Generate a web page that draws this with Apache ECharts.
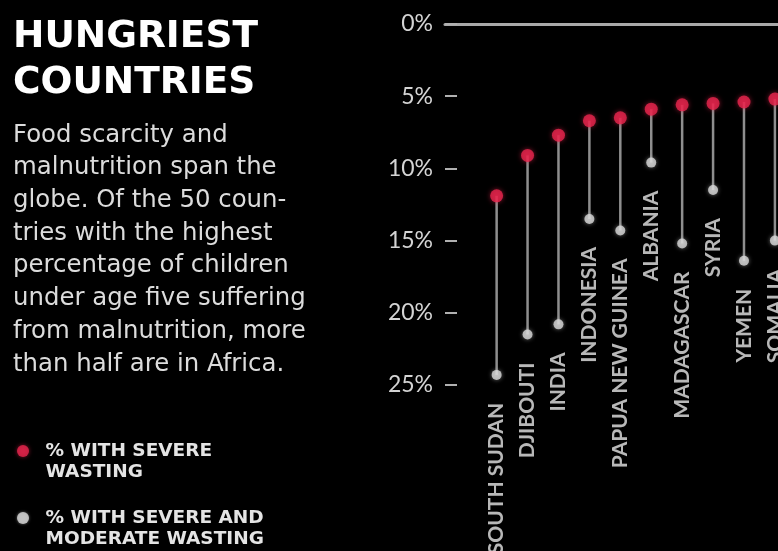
<!DOCTYPE html>
<html>
<head>
<meta charset="utf-8">
<script src="https://cdn.jsdelivr.net/npm/echarts@6/dist/echarts.min.js"></script>
<style>html,body{margin:0;padding:0;background:#000;}#c{width:778px;height:551px;}</style>
</head>
<body>
<div id="c"></div>
<script>
const countries = ['SOUTH SUDAN','DJIBOUTI','INDIA','INDONESIA','PAPUA NEW GUINEA','ALBANIA','MADAGASCAR','SYRIA','YEMEN','SOMALIA'];
const severeWasting = [11.9, 9.1, 7.7, 6.7, 6.5, 5.9, 5.6, 5.5, 5.4, 5.2];
const severeModerateWasting = [24.3, 21.5, 20.8, 13.5, 14.3, 9.6, 15.2, 11.5, 16.4, 15.0];
const yTicks = [0, 5, 10, 15, 20, 25];
const titleText = 'HUNGRIEST\nCOUNTRIES';
const bodyLines = ['Food scarcity and','malnutrition span the','globe. Of the 50 coun-','tries with the highest','percentage of children','under age five suffering','from malnutrition, more','than half are in Africa.'];
const legendNames = ['% WITH SEVERE WASTING', '% WITH SEVERE AND MODERATE WASTING'];
const legendLines = {'% WITH SEVERE WASTING': ['% WITH SEVERE', 'WASTING'], '% WITH SEVERE AND MODERATE WASTING': ['% WITH SEVERE AND', 'MODERATE WASTING']};

const RED = '#e8254d';
const WHITE = '#dadada';

const legendStyle = {
  orient: 'vertical', left: 17, padding: 0,
  icon: 'circle', itemWidth: 35, itemHeight: 12,
  formatter: n => ['', ...legendLines[n]].join('\n'),
  textStyle: { color: '#e4e4e4', fontFamily: 'DejaVu Sans', fontWeight: 'bold', fontSize: 18.5, lineHeight: 21.5 }
};

const chart = echarts.init(document.getElementById('c'));
const stemData = countries.map((c, i) => [i, severeWasting[i], severeModerateWasting[i]]);
const option = {
  backgroundColor: '#000',
  animation: false,
  title: [
    { text: titleText, left: 8, top: 9,
      textStyle: { color: '#ffffff', fontFamily: 'DejaVu Sans', fontWeight: 'bold', fontSize: 37.5, lineHeight: 46 } },
    { text: bodyLines.join('\n'), left: 8, top: 114,
      textStyle: { color: '#dcdcdc', fontFamily: 'DejaVu Sans', fontWeight: 'normal', fontSize: 24.4, lineHeight: 32.7 } }
  ],
  legend: [
    Object.assign({ data: [{ name: legendNames[0], itemStyle: { color: RED, shadowBlur: 4, shadowColor: 'rgba(232,37,77,0.7)' } }], top: 418.75 }, legendStyle),
    Object.assign({ data: [{ name: legendNames[1], itemStyle: { color: WHITE, shadowBlur: 3, shadowColor: 'rgba(220,220,220,0.6)' } }], top: 485.75 }, legendStyle)
  ],
  grid: { left: 445, right: 0, top: 24, height: 361 },
  xAxis: {
    type: 'value', min: -1.67, max: 9.1, position: 'top',
    axisLine: { show: true, onZero: false, lineStyle: { color: '#a8a8a8', width: 3 } },
    axisTick: { show: false }, axisLabel: { show: false }, splitLine: { show: false }
  },
  yAxis: {
    type: 'value', inverse: true, min: 0, max: 25, interval: 5,
    axisLine: { show: false, onZero: false },
    axisTick: { show: true, inside: true, length: 12, lineStyle: { color: '#b0b0b0', width: 2 } },
    axisLabel: { color: '#d4d4d4', fontFamily: 'Lato', fontSize: 23, margin: 12, formatter: v => yTicks.includes(v) ? v + '%' : '' },
    splitLine: { show: false }
  },
  series: [
    {
      type: 'custom', name: 'stems', silent: true, data: stemData, z: 1,
      encode: { x: 0, y: [1, 2] },
      renderItem: (params, api) => {
        const x = api.value(0);
        const a = api.coord([x, api.value(1)]);
        const b = api.coord([x, api.value(2)]);
        return { type: 'line', shape: { x1: a[0], y1: a[1], x2: b[0], y2: b[1] }, style: { stroke: '#8e8e8e', lineWidth: 2.5 } };
      }
    },
    {
      type: 'scatter', name: legendNames[1], z: 2, clip: false,
      data: severeModerateWasting.map((v, i) => [i, v]),
      symbolSize: 10,
      itemStyle: { color: WHITE, shadowBlur: 4, shadowColor: 'rgba(220,220,220,0.6)' },
      label: {
        show: true, formatter: p => countries[p.dataIndex], position: 'bottom', distance: 23,
        rotate: 90, align: 'right', verticalAlign: 'middle',
        color: '#e6e6e6', fontFamily: 'Lato', fontWeight: 'bold', fontSize: 21
      }
    },
    {
      type: 'scatter', name: legendNames[0], z: 3, clip: false,
      data: severeWasting.map((v, i) => [i, v]),
      symbolSize: 13,
      itemStyle: { color: RED, shadowBlur: 5, shadowColor: 'rgba(232,37,77,0.7)' }
    }
  ]
};
chart.setOption(option);
</script>
</body>
</html>
